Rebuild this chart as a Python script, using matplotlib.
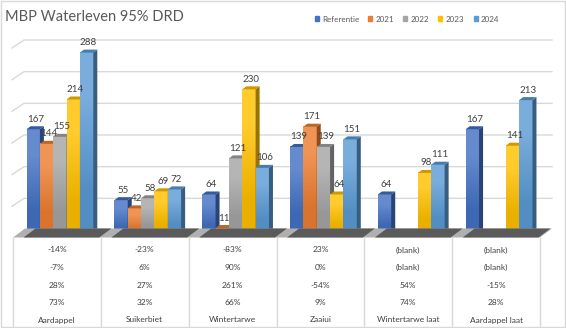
import numpy as np
import matplotlib.pyplot as plt
from matplotlib.patches import Polygon, Rectangle, Patch
from matplotlib.lines import Line2D
from matplotlib.colors import to_rgb

plt.rcParams['font.family'] = ['Lato', 'DejaVu Sans']

crops = ["Aardappel", "Suikerbiet", "Wintertarwe", "Zaaiui", "Wintertarwe laat", "Aardappel laat"]
series = ["Referentie", "2021", "2022", "2023", "2024"]
referentie = [167, 55, 64, 139, 64, 167]
y2021 = [144, 42, 11, 171, np.nan, np.nan]
y2022 = [155, 58, 121, 139, np.nan, np.nan]
y2023 = [214, 69, 230, 64, 98, 141]
y2024 = [288, 72, 106, 151, 111, 213]
# change vs referentie per year (pivot rows under the chart)
pct2021 = ["-14%", "-23%", "-83%", "23%", "(blank)", "(blank)"]
pct2022 = ["-7%", "6%", "90%", "0%", "(blank)", "(blank)"]
pct2023 = ["28%", "27%", "261%", "-54%", "54%", "-15%"]
pct2024 = ["73%", "32%", "66%", "9%", "74%", "28%"]

colors = ["#4472C4", "#ED7D31", "#A5A5A5", "#FFC000", "#5B9BD5"]

W, H = 566, 328
fig = plt.figure(figsize=(W / 100, H / 100), dpi=100)

# plot area in pixels (from top-left)
left, right, floor_y, top_y = 13, 540, 235, 45
ymax = 300
ax = fig.add_axes([left / W, (H - floor_y) / H, (right - left) / W, (floor_y - top_y) / H])
ax.set_xlim(-0.5, len(crops) - 0.5)
ax.set_ylim(0, ymax)
ax.axis('off')

sx = (right - left) / len(crops)      # px per category
sy = (floor_y - top_y) / ymax         # px per unit
dx, dy = 4 / sx, 3 / sy               # 3d depth of the columns
shift = 3 / sx
bw = 0.152


def fp(x, y):
    return x / W, 1 - y / H


def mix(c, other, t):
    c = np.array(to_rgb(c))
    return tuple(c * (1 - t) + np.array(other) * t)


# back wall gridlines
back = 5
for v in range(50, ymax + 1, 50):
    yb = floor_y - back - v * sy
    xs, ys = zip(fp(left - 1, yb + 8), fp(left + 11, yb), fp(right + 12, yb))
    fig.add_artist(Line2D(xs, ys, color="#D9D9D9", lw=1, zorder=0))

# floor
floor = [fp(left, 237.5), fp(right, 237.5), fp(right + 12, 228.5), fp(left + 12, 228.5)]
fig.add_artist(Polygon(floor, closed=True, fc="#b0b0b0", ec="none", zorder=1))
for k in range(len(crops)):
    g0 = left + k * sx + sx / 2 + 3 - 2.5 * bw * sx - 3
    g1 = left + k * sx + sx / 2 + 3 + 2.5 * bw * sx + 6
    shadow = [fp(g0, 237.5), fp(g1, 237.5), fp(g1 + 12, 228.5), fp(g0 + 12, 228.5)]
    fig.add_artist(Polygon(shadow, closed=True, fc="#5a5a5a", ec="none", zorder=1))

data = [referentie, y2021, y2022, y2023, y2024]
cats = np.arange(len(crops))
for i, vals in enumerate(data):
    xs = cats + (i - 2) * bw + shift
    bars = ax.bar(xs, vals, bw, color=colors[i], lw=0, zorder=3 + i * 0.1)
    grad = np.array([mix(colors[i], (1, 1, 1), 0.18), mix(colors[i], (0, 0, 0), 0.08)])
    for b, v in zip(bars, vals):
        if np.isnan(v):
            continue
        x0, x1 = b.get_x(), b.get_x() + b.get_width()
        z = 3 + i * 0.1
        ax.imshow(grad[:, None, :], extent=[x0, x1, 0, v], aspect='auto',
                  interpolation='bilinear', zorder=z + 0.01)
        side = [(x1, 0), (x1 + dx, dy), (x1 + dx, v + dy), (x1, v)]
        ax.add_patch(Polygon(side, closed=True, fc=mix(colors[i], (0, 0, 0), 0.4),
                             ec="none", zorder=z + 0.02))
        topf = [(x0, v), (x1, v), (x1 + dx, v + dy), (x0 + dx, v + dy)]
        ax.add_patch(Polygon(topf, closed=True, fc=mix(colors[i], (0, 0, 0), 0.2),
                             ec="none", zorder=z + 0.02))
        ax.text((x0 + x1) / 2 + 2 / sx, v + 10 / sy, f"{v:.0f}", ha='center', va='center',
                fontsize=7, color="#404040", zorder=10)
ax.set_xlim(-0.5, len(crops) - 0.5)
ax.set_ylim(0, ymax)

# pivot table under the chart
for k in range(len(crops) + 1):
    xs, ys = zip(fp(left + k * sx, 238), fp(left + k * sx, 327))
    fig.add_artist(Line2D(xs, ys, color="#D9D9D9", lw=1))
rows = [pct2021, pct2022, pct2023, pct2024, crops]
row_y = [250, 267.5, 285, 302.5, 320]
for r, yy in zip(rows, row_y):
    for k, txt in enumerate(r):
        fig.text(*fp(left + (k + 0.5) * sx, yy), txt, ha='center', va='center',
                 fontsize=6, color="#404040")

fig.text(*fp(5, 17), "MBP Waterleven 95% DRD", fontsize=10.5, color="#595959",
         ha='left', va='center')

handles = [Patch(color=c) for c in colors]
fig.legend(handles, series, loc='center', bbox_to_anchor=fp(407, 19), ncol=5, frameon=False,
           fontsize=5.8, handlelength=0.5, handleheight=0.5, handletextpad=0.4,
           columnspacing=1.15, labelcolor="#595959")

fig.add_artist(Rectangle((0.001, 0.002), 0.997, 0.996, transform=fig.transFigure,
                         fill=False, ec="#D9D9D9", lw=1))

fig.savefig("out.png", dpi=100)
